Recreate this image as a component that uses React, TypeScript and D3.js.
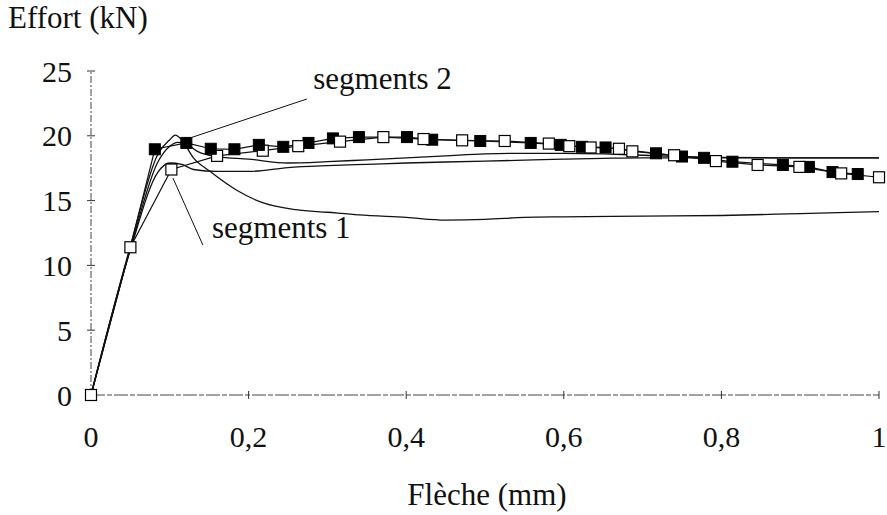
import React from "react";
import * as d3 from "d3";

const xTicks = [0, 0.2, 0.4, 0.6, 0.8, 1];
const xTickLabels = ["0", "0,2", "0,4", "0,6", "0,8", "1"];
const yTicks = [0, 5, 10, 15, 20, 25];
const yTickLabels = ["0", "5", "10", "15", "20", "25"];

// series with open squares
const openX = [0, 0.05, 0.102, 0.16, 0.218, 0.263, 0.316, 0.371, 0.422, 0.471, 0.525, 0.581, 0.607, 0.634, 0.67, 0.687, 0.74, 0.793, 0.846, 0.899, 0.952, 1.0];
const openY = [0, 11.4, 17.4, 18.45, 18.85, 19.2, 19.55, 19.9, 19.75, 19.65, 19.6, 19.4, 19.2, 19.1, 19.0, 18.8, 18.5, 18.05, 17.75, 17.6, 17.1, 16.8];

// series with filled squares
const filledX = [0.081, 0.121, 0.152, 0.182, 0.213, 0.244, 0.276, 0.307, 0.34, 0.401, 0.433, 0.494, 0.558, 0.596, 0.623, 0.653, 0.717, 0.75, 0.778, 0.814, 0.878, 0.911, 0.941, 0.973];
const filledY = [18.96, 19.45, 19.0, 18.96, 19.3, 19.15, 19.45, 19.8, 19.9, 19.9, 19.7, 19.6, 19.45, 19.3, 19.15, 19.1, 18.65, 18.4, 18.3, 18.0, 17.75, 17.6, 17.2, 17.05];

// plain curves
const curve1X = [0, 0.05, 0.085, 0.1, 0.11, 0.12, 0.135, 0.16, 0.2, 0.25, 0.3, 0.35, 0.4, 0.45, 0.5, 0.55, 0.6, 0.65, 0.7, 0.75, 0.8, 0.9, 1.0];
const curve1Y = [0, 11.3, 18.0, 19.2, 19.5, 19.4, 18.8, 18.4, 18.2, 17.9, 18.0, 18.15, 18.3, 18.45, 18.6, 18.65, 18.65, 18.6, 18.5, 18.4, 18.33, 18.3, 18.3];

const curve2X = [0, 0.05, 0.085, 0.1, 0.115, 0.13, 0.16, 0.2, 0.25, 0.3, 0.35, 0.4, 0.45, 0.5, 0.55, 0.6, 0.65, 0.7, 0.8, 0.9, 1.0];
const curve2Y = [0, 11.2, 17.2, 17.9, 17.8, 17.4, 17.25, 17.25, 17.55, 17.7, 17.8, 17.9, 17.98, 18.05, 18.12, 18.2, 18.26, 18.3, 18.3, 18.3, 18.3];

const curve3X = [0, 0.05, 0.085, 0.1, 0.107, 0.115, 0.13, 0.15, 0.185, 0.215, 0.26, 0.3, 0.34, 0.4, 0.45, 0.5, 0.55, 0.6, 0.7, 0.8, 0.9, 1.0];
const curve3Y = [0, 11.5, 18.6, 19.7, 20.05, 19.7, 18.3, 17.3, 15.8, 14.9, 14.3, 14.1, 13.9, 13.7, 13.5, 13.55, 13.7, 13.75, 13.8, 13.85, 14.0, 14.15];

// annotations (data coordinates)
const annotLabels = ["segments 2", "segments 1"];
const annotLineX1 = [0.1256, 0.104];
const annotLineY1 = [19.83, 16.74];
const annotLineX2 = [0.274, 0.142];
const annotLineY2 = [22.84, 11.57];
const annotTextX = [0.282, 0.1535];
const annotTextY = [23.6, 12.1];

const W = 887;
const H = 515;
const FONT = "'Liberation Serif', 'Times New Roman', serif";

export default function App() {
  const x = d3.scaleLinear().domain([0, 1]).range([91, 879]);
  const y = d3.scaleLinear().domain([0, 25]).range([395, 71]);
  const line = d3
    .line<[number, number]>()
    .x((d) => x(d[0]))
    .y((d) => y(d[1]))
    .curve(d3.curveMonotoneX);
  const straight = d3
    .line<[number, number]>()
    .x((d) => x(d[0]))
    .y((d) => y(d[1]));

  const zip = (a: number[], b: number[]) => a.map((v, i) => [v, b[i]] as [number, number]);
  const curves = [zip(curve1X, curve1Y), zip(curve2X, curve2Y), zip(curve3X, curve3Y)];
  const openPts = zip(openX, openY);
  const filledPts = zip(filledX, filledY);
  const sq = 11;

  return (
    <svg
      width={W}
      height={H}
      style={{ position: "absolute", left: 0, top: 0, background: "#fff" }}
      fontFamily={FONT}
    >
      <rect width={W} height={H} fill="#fff" />
      {/* axes */}
      <line x1={x(0)} x2={x(0)} y1={y(0)} y2={y(25)} stroke="#444" strokeWidth={1} strokeDasharray="7 2 2 2" />
      <line x1={x(0)} x2={x(1)} y1={y(0)} y2={y(0)} stroke="#444" strokeWidth={1} strokeDasharray="14 2 5 2" />
      {yTicks.map((t) => (
        <line key={"yt" + t} x1={x(0) - 4} x2={x(0) + 4} y1={y(t)} y2={y(t)} stroke="#333" strokeWidth={1} />
      ))}
      {xTicks.map((t) => (
        <line key={"xt" + t} x1={x(t)} x2={x(t)} y1={y(0) - 4} y2={y(0) + 4} stroke="#333" strokeWidth={1} />
      ))}
      {yTicks.map((t, i) => (
        <text key={"yl" + t} x={72} y={y(t)} dy="0.35em" textAnchor="end" fontSize={30} fill="#111">
          {yTickLabels[i]}
        </text>
      ))}
      {xTicks.map((t, i) => (
        <text key={"xl" + t} x={x(t)} y={447} textAnchor="middle" fontSize={30} fill="#111">
          {xTickLabels[i]}
        </text>
      ))}
      <text x={8} y={28} fontSize={31} fill="#111">Effort (kN)</text>
      <text x={487} y={505} textAnchor="middle" fontSize={31} fill="#111">Flèche (mm)</text>

      {/* plain curves */}
      {curves.map((c, i) => (
        <path key={"c" + i} d={line(c) || ""} fill="none" stroke="#111" strokeWidth={1.3} />
      ))}

      {/* marker series lines */}
      <path d={straight(openPts) || ""} fill="none" stroke="#111" strokeWidth={1.2} />
      <path d={straight([[0, 0], [0.05, 11.4], ...filledPts]) || ""} fill="none" stroke="#111" strokeWidth={1.2} />

      {openPts.slice(3, 5).map((p, i) => (
        <rect key={"ob" + i} x={x(p[0]) - sq / 2} y={y(p[1]) - sq / 2} width={sq} height={sq} fill="#fff" stroke="#000" strokeWidth={1.2} />
      ))}
      {filledPts.map((p, i) => (
        <rect key={"f" + i} x={x(p[0]) - sq / 2} y={y(p[1]) - sq / 2} width={sq} height={sq} fill="#000" stroke="#000" strokeWidth={1} />
      ))}
      {openPts.filter((_, i) => i < 3 || i >= 5).map((p, i) => (
        <rect key={"o" + i} x={x(p[0]) - sq / 2} y={y(p[1]) - sq / 2} width={sq} height={sq} fill="#fff" stroke="#000" strokeWidth={1.2} />
      ))}

      {/* annotations */}
      {annotLabels.map((lab, i) => (
        <g key={"a" + i}>
          <line
            x1={x(annotLineX1[i])}
            y1={y(annotLineY1[i])}
            x2={x(annotLineX2[i])}
            y2={y(annotLineY2[i])}
            stroke="#111"
            strokeWidth={1}
          />
          <text x={x(annotTextX[i])} y={y(annotTextY[i])} fontSize={31} fill="#111">
            {lab}
          </text>
        </g>
      ))}
    </svg>
  );
}
